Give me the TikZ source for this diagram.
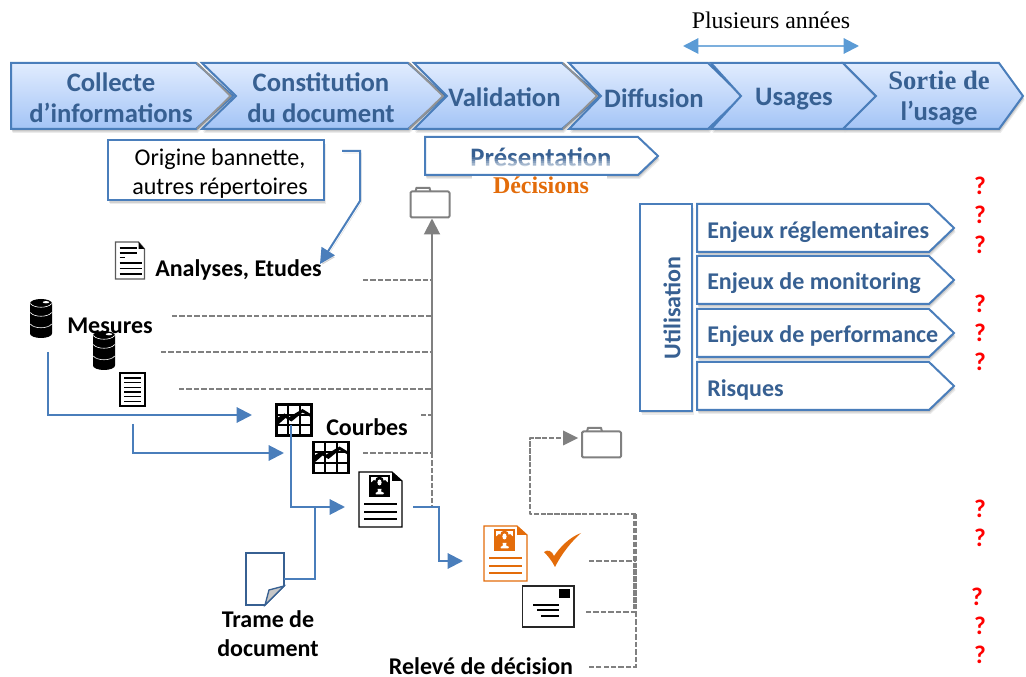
\documentclass[tikz,border=0pt]{standalone}
\usepackage{fontspec}
\setmainfont{Carlito}
\newfontfamily\serifb{Liberation Serif}
\usetikzlibrary{arrows.meta,shadows}
\definecolor{bord}{HTML}{4A7EBB}
\definecolor{titre}{HTML}{376092}
\definecolor{gtop}{HTML}{E1ECFE}
\definecolor{gbot}{HTML}{A3C4F6}
\definecolor{dashg}{HTML}{808080}
\definecolor{orng}{HTML}{E36C0A}
\definecolor{skyb}{HTML}{5B9BD5}
\tikzset{
  softshadow/.style={
    drop shadow={shadow xshift=.4pt,shadow yshift=-1pt,opacity=.13,fill=black},
    drop shadow={shadow xshift=.8pt,shadow yshift=-2pt,opacity=.11,fill=black},
    drop shadow={shadow xshift=1.2pt,shadow yshift=-3pt,opacity=.08,fill=black}},
  chevshape/.style={draw=bord,line width=1.5pt,top color=gtop,bottom color=gbot,line join=miter,softshadow},
  whitebox/.style={draw=bord,line width=1.5pt,fill=white,softshadow},
  bluewire/.style={draw=bord,line width=1.5pt},
  bluearrow/.style={bluewire,-{Triangle[length=11.5pt,width=11.5pt]}},
  grayline/.style={draw=dashg,line width=1.2pt,dash pattern=on 4pt off 1.6pt},
  grayfat/.style={draw=dashg,line width=2.2pt,dash pattern=on 4pt off 1.2pt,line join=round},
  title/.style={inner sep=0pt,text=titre,align=center,font=\fontsize{20}{23.25}\selectfont\bfseries},
  sidelabel/.style={inner sep=0pt,anchor=west,text=titre,font=\fontsize{18}{20}\selectfont\bfseries},
  blacklabel/.style={inner sep=0pt,text=black,align=center,font=\fontsize{18}{22}\selectfont\bfseries},
  qmark/.style={inner sep=0pt,text=red,font=\fontsize{19}{20}\selectfont\bfseries},
}
\newcommand\chevron[5]{% name, x0, notch, shoulder, tip
  \path[chevshape] (#2,63) -- (#4,63) -- (#5,96) -- (#4,129) -- (#2,129) -- (#3,96) -- cycle;
}
\newcommand\sidepent[3]{% top, bottom, mid
  \path[whitebox] (697,#1) -- (929,#1) -- (954,#3) -- (929,#2) -- (697,#2) -- cycle;
}
\newcommand\folderic[2]{% x y : top-left of 40x31 folder
  \begin{scope}[shift={(#1,#2)},draw=dashg,line width=1.5pt,line join=round]
    \draw[rounded corners=1pt] (0,4.5) rectangle (39,30.5);
    \draw (5,4.5) -- (6,0.8) -- (19,0.8) -- (20,4.5);
  \end{scope}
}
\newcommand\barrel[2]{% x y
  \begin{scope}[shift={(#1,#2)}]
    \fill[black] (0,4.5) arc[start angle=180,end angle=360,x radius=11,y radius=4.5] -- (22,34.5) arc[start angle=0,end angle=180,x radius=11,y radius=4.5] -- cycle;
    \draw[white,line width=.45pt] (0.3,4.5) .. controls (4,9.5) and (18,9.5) .. (21.7,4.5);
    \draw[white,line width=.45pt] (0.3,13.5) .. controls (4,18.5) and (18,18.5) .. (21.7,13.5);
    \draw[white,line width=.45pt] (0.3,25) .. controls (4,30) and (18,30) .. (21.7,25);
    \fill[white] (16,3.2) ellipse[x radius=3.3,y radius=1.1];
  \end{scope}
}
\newcommand\chartic[2]{% x y
  \begin{scope}[shift={(#1,#2)}]
    \draw[black,line width=2pt] (0,0) rectangle (35,31);
    \draw[black,line width=1.5pt] (11.7,0) -- (11.7,31) (23.4,0) -- (23.4,31) (0,10.3) -- (35,10.3) (0,20.6) -- (35,20.6);
    \fill[black] (0,14) -- (8,9) -- (12,13) -- (26,4.5) -- (35,10) -- (35,13) -- (26,8) -- (15,17) -- (9,13.5) -- (1,20.6) -- (0,20.6) -- cycle;
  \end{scope}
}
\newcommand\monalisa[3]{% x y colour : 21x22
  \begin{scope}[shift={(#1,#2)}]
    \fill[#3] (0,0) rectangle (21,22);
    \fill[white] (1.6,1.6) rectangle (19.4,14);
    \fill[#3] (1.6,8) -- (5,5) -- (8,7) -- (13,7) -- (16,5) -- (19.4,8) -- (19.4,14) -- (1.6,14) -- cycle;
    \fill[#3] (10.5,7) ellipse[x radius=4.6,y radius=5.5];
    \fill[white] (10.5,7.5) ellipse[x radius=2.1,y radius=3];
    \fill[white] (8.5,14) -- (12.5,14) -- (12,16.5) -- (15,18) -- (14,19.5) -- (7,19.5) -- (6.5,18) -- (9,16.5) -- cycle;
  \end{scope}
}
\newcommand\fulldoc[3]{% x y colour : 43x55
  \begin{scope}[shift={(#1,#2)}]
    \path[draw=#3,fill=white,line width=.9pt,line join=miter] (0,0) -- (33,0) -- (43,9) -- (43,55) -- (0,55) -- cycle;
    \fill[#3] (33,0) -- (43,9) -- (33,9) -- cycle;
    \monalisa{10}{3}{#3}
    \foreach \yy in {32,40,47.5}{\draw[#3,line width=1.5pt] (5,\yy) -- (38,\yy);}
  \end{scope}
}
\begin{document}
\begin{tikzpicture}[x=0.75pt,y=-0.75pt]
\useasboundingbox (0,0) rectangle (1026,677);
% ---- top arrow
\node[inner sep=0pt,font=\serifb\fontsize{17.9}{20}\selectfont] (duree) at (771,20) {Plusieurs années};
\coordinate (dureeL) at (683,46);
\coordinate (dureeR) at (859,46);
\draw[draw=skyb!80!white,line width=1.5pt,{Triangle[length=11.5pt,width=11.5pt,color=skyb]}-{Triangle[length=11.5pt,width=11.5pt,color=skyb]}] (dureeL) -- (dureeR);
% ---- chevrons
\chevron{a}{11}{11}{196}{233}
\draw[dashg!85!white,line width=1.4pt] (197,63) -- (230.5,96) -- (197,129);
\chevron{b}{202}{236}{408}{445}
\draw[dashg!85!white,line width=1.4pt] (409,63) -- (443,96) -- (409,129);
\chevron{c}{414}{447}{562}{600}
\draw[dashg!85!white,line width=1.4pt] (563,63) -- (597,96) -- (563,129);
\chevron{d}{569}{601}{708}{742}
\chevron{e}{711}{741}{843}{876}
\chevron{f}{843}{876}{999}{1023}
\node[title] (collecte) at (111,97.5) {Collecte\\d’informations};
\node[title] (constit) at (321,97.5) {Constitution\\du document};
\node[title] (valid) at (504.5,97) {Validation};
\node[title] (diffus) at (654,98) {Diffusion};
\node[title] (usages) at (794,99) {Usages};
\node[title] (sortie) at (939,98.5) {{\serifb\bfseries Sortie de}\\l’usage};
% ---- origine
\node[whitebox,minimum width=162pt,minimum height=45pt,inner sep=0pt] (origine) at (216,170) {};
\node[inner sep=0pt,align=center,font=\fontsize{18}{21.75}\selectfont] (originet) at (220,174) {Origine bannette,\\autres répertoires};
% ---- presentation
\path[whitebox] (425,137) -- (638,137) -- (658,156) -- (638,175) -- (425,175) -- cycle;
\node[inner sep=0pt,text=titre,font=\fontsize{20}{22}\selectfont\bfseries] (present) at (541,157) {Présentation};
\foreach \yy/\oo in {157/.1,159/.25,161/.4,163/.55,165/.7}{\fill[white,opacity=\oo] (460,\yy) rectangle (620,\yy+2);}
\fill[white] (472,175.8) rectangle (607,194);
\node[inner sep=0pt,text=orng,font=\serifb\bfseries\fontsize{18}{20}\selectfont] (decis) at (541,185) {Décisions};
% ---- origin connector
\coordinate (oriA) at (342,151);
\coordinate (oriB) at (360,151);
\coordinate (oriC) at (360,201);
\coordinate (oriD) at (320,264);
\draw[bluearrow,preaction={draw=black,opacity=.12,transform canvas={xshift=1pt,yshift=-1.5pt}}] (oriA) -- (oriB) -- (oriC) -- (oriD);
% ---- left labels
\node[blacklabel,anchor=west] (analyses) at (155,270) {Analyses, Etudes};
\node[blacklabel,anchor=west] (mesures) at (67,326) {Mesures};
\node[blacklabel,anchor=west] (courbes) at (326,427) {Courbes};
\node[blacklabel] (trame) at (268,634) {Trame de\\document};
\node[blacklabel] (releve) at (481,666) {Relevé de décision};
% ---- document icons
\begin{scope}[shift={(115.5,242)}]
  \path[draw=dashg!70!black,fill=white,line width=.9pt] (0,0) -- (23,0) -- (29,7) -- (29,37) -- (0,37) -- cycle;
  \fill[black] (23,0) -- (29,7) -- (23,7) -- cycle;
  \foreach \yy/\xx in {6/21,11/21,15.5/9,21/26,26.5/26,32/26}{\draw[black,line width=.8pt] (4,\yy) -- (\xx,\yy);}
\end{scope}
\barrel{30}{299}
\barrel{93}{331}
\begin{scope}[shift={(120,373)}]
  \draw[black,fill=white,line width=1.1pt] (0,0) rectangle (25,33);
  \foreach \yy in {5,9.7,14.4,19,23.7,28.4}{\draw[black,line width=.8pt] (4,\yy) -- (21,\yy);}
\end{scope}
\chartic{276.5}{404.5}
\chartic{313.5}{442}
\fulldoc{359}{472}{black}
\fulldoc{484}{526}{orng}
% trame
\path[draw=titre,fill=white,line width=1.3pt] (246,553) -- (284,553) -- (284,586) -- (265,605) -- (246,605) -- cycle;
\path[draw=titre,fill=black!22,line width=1pt] (284,586) -- (269,590) -- (265,605) -- cycle;
% check
\fill[orng] (544,552) .. controls (548,549) and (552,551) .. (554,556) .. controls (560,547) and (570,537) .. (581,533) .. controls (572,541) and (562,553) .. (555,567) .. controls (552,561) and (548,556) .. (544,552) -- cycle;
% envelope
\draw[black!85,line width=1.1pt] (522.5,586) rectangle (574,627);
\fill[black] (559,589) rectangle (570,598);
\draw[black,line width=1.2pt] (533,605) -- (559,605) (537,610.3) -- (559,610.3) (541,615.7) -- (559,615.7);
% folders
\folderic{410.5}{187}
\folderic{582}{427}
% ---- blue connectors
\coordinate (m1) at (47.5,352);
\coordinate (m1b) at (47.5,415);
\coordinate (c1) at (252,415);
\draw[bluearrow,line join=miter] (m1) -- (m1b) -- (c1);
\coordinate (m2) at (133,424);
\coordinate (m2b) at (133,453);
\coordinate (c2) at (284,453);
\draw[bluearrow] (m2) -- (m2b) -- (c2);
\coordinate (c3) at (291,425);
\coordinate (c3b) at (291,507);
\coordinate (d1) at (345,507);
\draw[bluearrow] (c3) -- (c3b) -- (d1);
\coordinate (t1) at (284,579);
\coordinate (t1b) at (315,579);
\coordinate (t1c) at (315,507);
\draw[bluewire] (t1) -- (t1b) -- (t1c);
% ---- gray structure
\coordinate (v0) at (432,507);
\coordinate (v1) at (432,453);
\coordinate (v2) at (432,218.5);
\draw[dashg,line width=1.5pt,-{Triangle[length=12pt,width=12pt]}] (v1) -- (v2);
\draw[grayline] (v1) -- (v0);
\foreach \nm/\xs/\ys in {g1/363/280,g2/172/316,g3/161/352,g4/179/389,g5/421/415,g6/363/453}{
  \coordinate (\nm) at (\xs,\ys);
  \coordinate (\nm e) at (432,\ys);
  \draw[grayline] (\nm) -- (\nm e);
}
\coordinate (d2) at (413,507);
\coordinate (d2b) at (439,507);
\coordinate (d2c) at (439,561);
\coordinate (or) at (463,561);
\draw[bluearrow] (d2) -- (d2b) -- (d2c) -- (or);
\coordinate (j1) at (636,514);
\coordinate (j2) at (530,514);
\coordinate (j3) at (530,438);
\coordinate (fo) at (566,438);
\coordinate (fotip) at (578,438);
\draw[grayfat] (j1) -- (j2) -- (j3) -- (fo);
\fill[dashg] (fotip) -- +(-15,-7.5) -- +(-15,7.5) -- cycle;
\coordinate (j4) at (636,612);
\coordinate (j5) at (636,667);
\coordinate (j5a) at (589,667);
\coordinate (j6) at (589,561);
\coordinate (j6e) at (636,561);
\coordinate (j7) at (586,612);
\draw[grayfat] (j1) -- (j4);
\draw[grayfat,transform canvas={xshift=-1pt}] (j1) -- (j4);
\draw[grayline] (j4) -- (j5) -- (j5a);
\draw[grayline] (j6) -- (j6e);
\draw[grayline] (j7) -- (j4);
% ---- utilisation
\node[whitebox,minimum width=39pt,minimum height=155pt,inner sep=0pt] (util) at (666,307.5) {};
\node[inner sep=0pt,rotate=90,text=titre,font=\fontsize{18}{20}\selectfont\bfseries] (utilt) at (672,308) {Utilisation};
\sidepent{204}{252}{228}
\sidepent{256}{304}{280}
\sidepent{309}{357}{333}
\sidepent{362}{410}{386}
\node[sidelabel] (n1) at (707,232) {Enjeux réglementaires};
\node[sidelabel] (n2) at (707,283) {Enjeux de monitoring};
\node[sidelabel] (n3) at (707,336) {Enjeux de performance};
\node[sidelabel] (n4) at (707,390) {Risques};
% ---- question marks
\foreach \i/\xx/\yy in {1/980/186,2/980/215,3/980/245,4/980/304,5/980/333,6/980/362,7/980/509,8/980/538,9/977/597,10/980/626,11/980/655}{
  \node[qmark] (q\i) at (\xx,\yy) {?};
}
\end{tikzpicture}
\end{document}
